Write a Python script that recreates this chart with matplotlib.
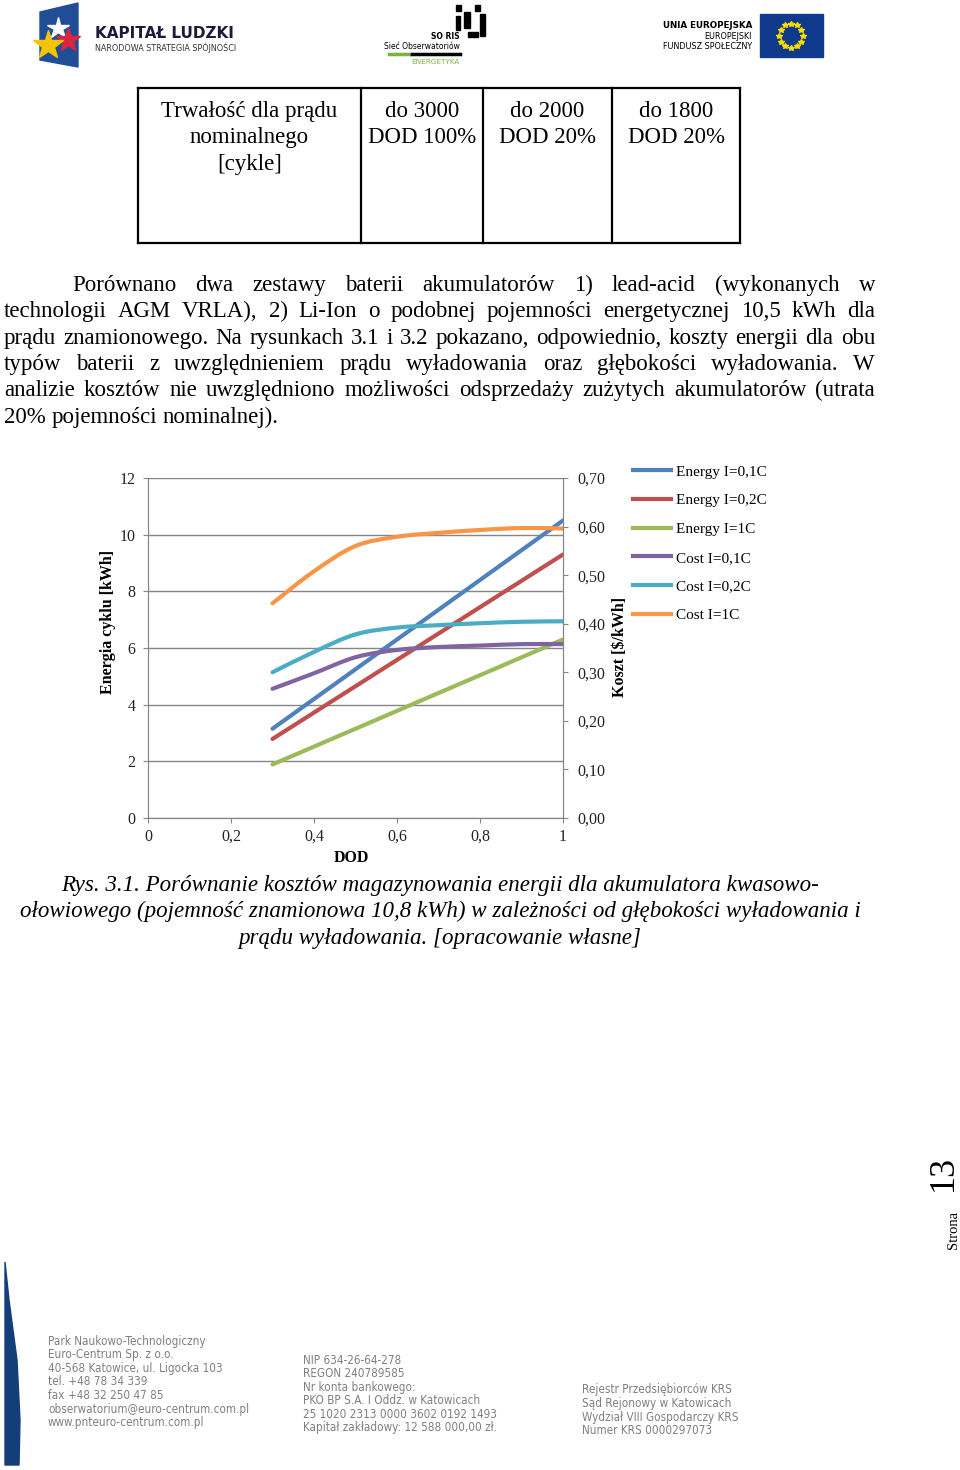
import numpy as np
import matplotlib.pyplot as plt
from matplotlib.path import Path
from matplotlib.patches import PathPatch, Rectangle, Polygon
from matplotlib.lines import Line2D

plt.rcParams['font.family'] = ['Liberation Serif', 'DejaVu Serif']

# dane z wykresu
dod = [0.3, 0.4, 0.5, 0.6, 0.7, 0.8, 0.9, 1.0]
energy_01c = [3.15, 4.20, 5.25, 6.30, 7.35, 8.40, 9.45, 10.50]
energy_02c = [2.79, 3.72, 4.65, 5.58, 6.51, 7.44, 8.37, 9.30]
energy_1c = [1.89, 2.52, 3.15, 3.78, 4.41, 5.04, 5.67, 6.30]
cost_01c = [0.266, 0.298, 0.331, 0.346, 0.352, 0.355, 0.358, 0.358]
cost_02c = [0.300, 0.342, 0.378, 0.392, 0.397, 0.401, 0.404, 0.405]
cost_1c = [0.442, 0.508, 0.560, 0.579, 0.587, 0.593, 0.597, 0.596]

energy_labels = ['Energy I=0,1C', 'Energy I=0,2C', 'Energy I=1C']
cost_labels = ['Cost I=0,1C', 'Cost I=0,2C', 'Cost I=1C']
energy_colors = ['#4F81BD', '#C0504D', '#9BBB59']
cost_colors = ['#8064A2', '#4BACC6', '#F79646']

x_ticks = [0, 0.2, 0.4, 0.6, 0.8, 1.0]
x_ticklabels = ['0', '0,2', '0,4', '0,6', '0,8', '1']
y_ticks = [0, 2, 4, 6, 8, 10, 12]
y2_ticks = [0, 0.1, 0.2, 0.3, 0.4, 0.5, 0.6, 0.7]
y2_ticklabels = ['0,00', '0,10', '0,20', '0,30', '0,40', '0,50', '0,60', '0,70']

table_cells = [
    ['Trwałość dla prądu', 'nominalnego', '[cykle]'],
    ['do 3000', 'DOD 100%'],
    ['do 2000', 'DOD 20%'],
    ['do 1800', 'DOD 20%'],
]

paragraph = [
    'Porównano dwa zestawy baterii akumulatorów 1) lead-acid (wykonanych w',
    'technologii AGM VRLA), 2) Li-Ion o podobnej pojemności energetycznej 10,5 kWh dla',
    'prądu znamionowego. Na rysunkach 3.1 i 3.2 pokazano, odpowiednio, koszty energii dla obu',
    'typów baterii z uwzględnieniem prądu wyładowania oraz głębokości wyładowania. W',
    'analizie kosztów nie uwzględniono możliwości odsprzedaży zużytych akumulatorów (utrata',
    '20% pojemności nominalnej).',
]

caption = [
    'Rys. 3.1. Porównanie kosztów magazynowania energii dla akumulatora kwasowo-',
    'ołowiowego (pojemność znamionowa 10,8 kWh) w zależności od głębokości wyładowania i',
    'prądu wyładowania. [opracowanie własne]',
]

footer_1 = ['Park Naukowo-Technologiczny', 'Euro-Centrum Sp. z o.o.',
            '40-568 Katowice, ul. Ligocka 103', 'tel. +48 78 34 339',
            'fax +48 32 250 47 85', 'obserwatorium@euro-centrum.com.pl',
            'www.pnteuro-centrum.com.pl']
footer_2 = ['NIP 634-26-64-278', 'REGON 240789585', 'Nr konta bankowego:',
            'PKO BP S.A. I Oddz. w Katowicach', '25 1020 2313 0000 3602 0192 1493',
            'Kapitał zakładowy: 12 588 000,00 zł.']
footer_3 = ['Rejestr Przedsiębiorców KRS', 'Sąd Rejonowy w Katowicach',
            'Wydział VIII Gospodarczy KRS', 'Numer KRS 0000297073']


def smooth_path(xs, ys):
    # wygładzona linia jak w Excelu (krzywe Beziera przez punkty)
    pts = list(zip(xs, ys))
    n = len(pts)
    verts = [pts[0]]
    codes = [Path.MOVETO]
    for i in range(n - 1):
        p0 = pts[max(i - 1, 0)]
        p1 = pts[i]
        p2 = pts[i + 1]
        p3 = pts[min(i + 2, n - 1)]
        c1 = (p1[0] + (p2[0] - p0[0]) / 6, p1[1] + (p2[1] - p0[1]) / 6)
        c2 = (p2[0] - (p3[0] - p1[0]) / 6, p2[1] - (p3[1] - p1[1]) / 6)
        verts += [c1, c2, p2]
        codes += [Path.CURVE4] * 3
    return Path(verts, codes)


fig = plt.figure(figsize=(9.6, 14.7), dpi=100)
page = fig.add_axes([0, 0, 1, 1])
page.set_xlim(0, 960)
page.set_ylim(1470, 0)
page.axis('off')
renderer = fig.canvas.get_renderer()


def text_width(s, size, **kw):
    t = page.text(0, 0, s, fontsize=size, **kw)
    w = t.get_window_extent(renderer).width
    t.remove()
    return w


# --- naglowek z logo ---
page.add_patch(Polygon([[40, 12], [78, 3], [78, 67], [40, 60]], closed=True,
                       color='#1F4E97'))
page.plot([58], [28], marker='*', color='white', ms=16)
page.plot([68], [40], marker='*', color='#D7263D', ms=18)
page.plot([48], [45], marker='*', color='#F2C500', ms=22)
page.text(95, 33, 'KAPITAŁ LUDZKI', fontsize=11, fontweight='bold',
          family=['DejaVu Sans'], color='#1b1b3a', va='center')
page.text(95, 48, 'NARODOWA STRATEGIA SPÓJNOŚCI', fontsize=5.8,
          family=['DejaVu Sans'], color='#333333', va='center')

for r in [[456, 5, 5, 6], [475, 5, 5, 6], [464, 12, 6, 16], [456, 16, 4, 14],
          [480, 14, 5, 22], [468, 32, 10, 5]]:
    page.add_patch(Rectangle((r[0], r[1]), r[2], r[3], color='black'))
page.text(460, 36, 'SO RIS', fontsize=5.5, fontweight='bold',
          family=['DejaVu Sans'], ha='right', va='center')
page.text(460, 46, 'Sieć Obserwatoriów', fontsize=5.5,
          family=['DejaVu Sans'], ha='right', va='center')
page.plot([389, 395], [54, 54], color='#7FB041', lw=2.5)
page.plot([397, 403], [54, 54], color='#7FB041', lw=2.5)
page.plot([405, 410], [54, 54], color='#7FB041', lw=2.5)
page.plot([412, 460], [54, 54], color='black', lw=2.5)
page.text(411, 62, 'ENERGETYKA', fontsize=5.2, family=['DejaVu Sans'],
          color='#7FB041', va='center')

page.text(752, 25, 'UNIA EUROPEJSKA', fontsize=6.3, fontweight='bold',
          family=['DejaVu Sans'], ha='right', va='center')
page.text(752, 36, 'EUROPEJSKI', fontsize=5.8, family=['DejaVu Sans'],
          ha='right', va='center')
page.text(752, 46, 'FUNDUSZ SPOŁECZNY', fontsize=5.8, family=['DejaVu Sans'],
          ha='right', va='center')
page.add_patch(Rectangle((760, 14), 63, 43, color='#0F3A8C'))
ang = np.arange(12) * np.pi / 6
page.plot(791 + 12 * np.cos(ang), 35.5 + 12 * np.sin(ang), ls='none',
          marker='*', color='#FFDD00', ms=4)

# --- tabela ---
table_x = [138, 361, 483, 612, 740]
for x in table_x:
    page.plot([x, x], [88, 243], color='black', lw=1.6)
page.plot([138, 740], [88, 88], color='black', lw=1.6)
page.plot([138, 740], [243, 243], color='black', lw=1.6)
for i, cell in enumerate(table_cells):
    cx = (table_x[i] + table_x[i + 1]) / 2
    for j, line in enumerate(cell):
        page.text(cx, 111 + j * 26.5, line, fontsize=16.5, ha='center',
                  va='center')

# --- akapit (wyjustowany) ---
par_size = 16.5
for k, line in enumerate(paragraph):
    y = 291 + k * 26.3
    x0 = 72 if k == 0 else 4
    words = line.split(' ')
    texts = [page.text(0, y, w, fontsize=par_size, va='baseline') for w in words]
    widths = [t.get_window_extent(renderer).width for t in texts]
    if k == len(paragraph) - 1:
        gap = text_width('a a', par_size) - text_width('aa', par_size)
    else:
        gap = (875 - x0 - sum(widths)) / (len(words) - 1)
    x = x0
    for t, w in zip(texts, widths):
        t.set_x(x)
        x += w + gap

# --- wykres ---
ax = fig.add_axes([148 / 960, (1470 - 818) / 1470, (563 - 148) / 960,
                   (818 - 478) / 1470])
ax.set_xlim(0, 1)
ax.set_ylim(0, 12)
grid_c = '#868686'
for vals, c in zip([energy_01c, energy_02c, energy_1c], energy_colors):
    ax.plot(dod, vals, color=c, lw=3, solid_capstyle='round')
ax.set_yticks(y_ticks)
ax.set_xticks(x_ticks)
ax.set_xticklabels(x_ticklabels)
ax.yaxis.grid(True, color=grid_c, lw=1)
ax.set_axisbelow(True)
ax.spines['top'].set_visible(False)
for s in ['left', 'bottom', 'right']:
    ax.spines[s].set_color(grid_c)
ax.tick_params(axis='y', length=3.6, color=grid_c, labelsize=11.5, pad=5.5,
               labelcolor='#222222')
ax.tick_params(axis='x', length=3.6, color=grid_c, labelsize=11.5, pad=4,
               labelcolor='#222222')
ax.set_ylabel('Energia cyklu [kWh]', fontsize=11.5, fontweight='bold')
ax.yaxis.label.set_va('center')
ax.yaxis.set_label_coords((108 - 148) / 415, (818 - 622) / 340)
ax.set_xlabel('DOD', fontsize=11.5, fontweight='bold')
ax.xaxis.label.set_va('center')
ax.xaxis.set_label_coords((351 - 148) / 415, (818 - 858) / 340)

ax2 = ax.twinx()
ax2.set_ylim(0, 0.7)
for vals, c in zip([cost_01c, cost_02c, cost_1c], cost_colors):
    ax2.add_patch(PathPatch(smooth_path(dod, vals), fill=False, edgecolor=c,
                            lw=3, capstyle='round'))
ax2.set_yticks(y2_ticks)
ax2.set_yticklabels(y2_ticklabels)
ax2.spines['top'].set_visible(False)
for s in ['left', 'bottom', 'right']:
    ax2.spines[s].set_color(grid_c)
ax2.tick_params(axis='y', length=3.6, color=grid_c, labelsize=11.5, pad=6.5,
                labelcolor='#222222')
ax2.set_ylabel('Koszt [$/kWh]', fontsize=11.5, fontweight='bold')
ax2.yaxis.label.set_va('center')
ax2.yaxis.set_label_coords((620 - 148) / 415, (818 - 647) / 340)

handles = [Line2D([], [], color=c, lw=3, label=l)
           for c, l in zip(energy_colors + cost_colors, energy_labels + cost_labels)]
fig.legend(handles=handles, loc='upper left',
           bbox_to_anchor=(633 / 960, 1 - 465 / 1470), frameon=False,
           fontsize=11, handlelength=2.5, handletextpad=0.3, labelspacing=0.98,
           borderpad=0, borderaxespad=0)

# --- podpis rysunku ---
cap_size = 10 * 844 / text_width(caption[1], 10, style='italic')
for k, line in enumerate(caption):
    page.text(440, 885 + k * 26.5, line, fontsize=cap_size, style='italic',
              ha='center', va='center')

# --- numer strony ---
page.text(943, 1173, '13', fontsize=26, rotation=90, ha='center', va='center')
page.text(953, 1230, 'Strona', fontsize=10.5, rotation=90, ha='center',
          va='center')

# --- stopka ---
page.add_patch(Polygon([[5, 1262], [9, 1300], [17, 1360], [20, 1420], [19, 1465],
                        [5, 1465]], closed=True, color='#133E7A'))
foot_font = ['DejaVu Sans']
foot_size = 8.8 * 156 / text_width(footer_1[0], 8.8, family=foot_font,
                                   fontstretch='condensed')
for col, x0, y0 in [(footer_1, 48, 1341), (footer_2, 303, 1360), (footer_3, 582, 1390)]:
    for k, line in enumerate(col):
        page.text(x0, y0 + k * 13.6, line, fontsize=foot_size, family=foot_font,
                  fontstretch='condensed', color='#808080', va='center')

fig.savefig('out.png', dpi=100)
